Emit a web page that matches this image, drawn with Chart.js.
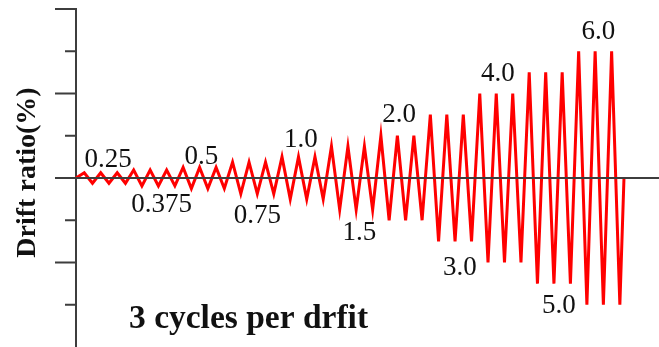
<!DOCTYPE html>
<html>
<head>
<meta charset="utf-8">
<title>Loading protocol</title>
<script src="https://cdn.jsdelivr.net/npm/chart.js@4"></script>
<style>
  html, body { margin: 0; padding: 0; background: #fff; }
  #wrap { position: relative; width: 659px; height: 347px; }
</style>
</head>
<body>
<div id="wrap"><canvas id="protocol"></canvas></div>
<script>
// ============================================================
// Loading protocol data
// ============================================================
// drift levels (%), each applied for 3 full cycles
const driftLevels = [0.25, 0.375, 0.5, 0.75, 1.0, 1.5, 2.0, 3.0, 4.0, 5.0, 6.0];
const cyclesPerLevel = 3;
// labels shown next to each level, and which side of the zero line
const levelLabels = ['0.25', '0.375', '0.5', '0.75', '1.0', '1.5', '2.0', '3.0', '4.0', '5.0', '6.0'];
// label anchors in data units: [step, drift]
const labelAnchors = [
  [3.9, 0.52], [10.4, -1.6], [15.2, 0.65], [22.0, -2.12], [27.3, 1.48], [34.4, -2.93],
  [39.2, 2.64], [46.6, -4.59], [51.2, 4.59], [58.6, -6.4], [63.4, 6.56]
];
// y axis ticks (only marks, no labels)
const yTicks = [-6, -4, -2, 0, 2, 4, 6, 8];
const yMin = -8, yMax = 8;

// ============================================================
// Build the zigzag history: 0 -> +A -> -A -> ... -> 0
// ============================================================
const history = [{ x: 0, y: 0 }];
let step = 1;
driftLevels.forEach(a => {
  for (let c = 0; c < cyclesPerLevel; c++) {
    history.push({ x: step++, y: a });
    history.push({ x: step++, y: -a });
  }
});
history.push({ x: step - 0.5, y: 0 });

const serif = "'Liberation Serif', 'Times New Roman', serif";
const axisColor = '#3d3d3d';

// ============================================================
// Axis, ticks, labels and titles
// ============================================================
const protocolDecor = {
  id: 'protocolDecor',
  beforeDatasetsDraw(chart) {
    const { ctx, chartArea, scales: { y } } = chart;
    const ax = chartArea.left;
    ctx.save();
    ctx.strokeStyle = axisColor;
    ctx.lineWidth = 2;
    ctx.beginPath();
    ctx.moveTo(ax, y.getPixelForValue(yMax) - 1);
    ctx.lineTo(ax, chart.height);
    yTicks.forEach(v => {
      if (v === 0) return;
      const py = y.getPixelForValue(v);
      const len = v % 4 === 0 ? 21 : 11;
      ctx.moveTo(ax - len, py);
      ctx.lineTo(ax, py);
    });
    ctx.stroke();
    ctx.restore();
  },
  afterDatasetsDraw(chart) {
    const { ctx, chartArea, scales: { x, y } } = chart;
    ctx.save();
    // zero line with its long tick
    ctx.strokeStyle = axisColor;
    ctx.lineWidth = 2;
    ctx.beginPath();
    const zy = y.getPixelForValue(0);
    ctx.moveTo(chartArea.left - 21, zy);
    ctx.lineTo(chart.width, zy);
    ctx.stroke();

    // drift level labels
    ctx.fillStyle = '#111';
    ctx.font = '27px ' + serif;
    ctx.textAlign = 'center';
    ctx.textBaseline = 'alphabetic';
    levelLabels.forEach((t, i) => {
      const [sx, sy] = labelAnchors[i];
      ctx.fillText(t, x.getPixelForValue(sx), y.getPixelForValue(sy));
    });

    // bottom caption
    ctx.font = 'bold 33.5px ' + serif;
    ctx.textAlign = 'left';
    ctx.fillText('3 cycles per drfit', 129, 328);

    // y axis title
    ctx.translate(35, 172.5);
    ctx.rotate(-Math.PI / 2);
    ctx.font = 'bold 28px ' + serif;
    ctx.textAlign = 'center';
    ctx.fillText('Drift ratio(%)', 0, 0);
    ctx.restore();
  }
};

new Chart(document.getElementById('protocol'), {
  type: 'line',
  data: {
    datasets: [{
      data: history,
      borderColor: '#ff0000',
      borderWidth: 3,
      pointRadius: 0,
      tension: 0,
      fill: false,
      clip: false
    }]
  },
  options: {
    responsive: true,
    maintainAspectRatio: false,
    animation: false,
    layout: { padding: { left: 76, top: 9, right: 0, bottom: 0 } },
    plugins: {
      legend: { display: false },
      tooltip: { enabled: false }
    },
    scales: {
      x: { type: 'linear', min: 0, max: 70.75, display: false },
      y: { min: yMin, max: yMax, display: false }
    }
  },
  plugins: [protocolDecor]
});
</script>
</body>
</html>
